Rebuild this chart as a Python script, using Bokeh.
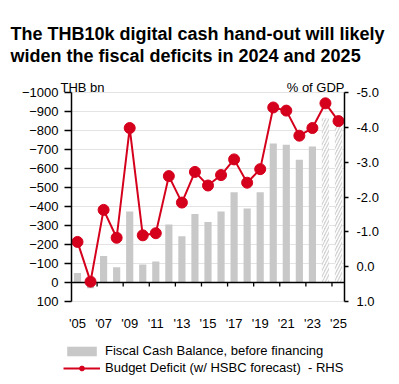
from bokeh.plotting import figure
from bokeh.models import (Range1d, LinearAxis, FixedTicker, Legend,
                          LegendItem, PrintfTickFormatter, Label)
from bokeh.embed import file_html
from bokeh.resources import INLINE

# ---------------- data ----------------
years = list(range(2005, 2026))
cash_balance = [-50, 30, -140, -80, -374, -95, -110, -305, -244, -360,
                -318, -374, -475, -389, -475, -732, -725, -646, -716,
                -863, -846]
forecast_years = [2024, 2025]
deficit_pct = [-0.71, 0.43, -1.63, -0.83, -3.98, -0.90, -0.96, -2.60,
               -1.84, -2.72, -2.33, -2.63, -3.08, -2.41, -2.80, -4.57,
               -4.48, -3.76, -3.98, -4.69, -4.18]
left_ticks = list(range(-1000, 101, 100))
right_ticks = [-5.0, -4.0, -3.0, -2.0, -1.0, 0.0, 1.0]
label_years = list(range(2005, 2026, 2))
tick_years = [y + 0.5 for y in range(2006, 2025, 2)]
title_lines = ["The THB10k digital cash hand-out will likely",
               "widen the fiscal deficits in 2024 and 2025"]
unit_labels = ["THB bn", "% of GDP"]
legend_labels = ["Fiscal Cash Balance, before financing",
                 "Budget Deficit (w/ HSBC forecast)  - RHS"]

BAR = "#C8C8C8"
RED = "#D5001C"
FONT = "Liberation Sans"

# ---------------- layout (pixels) ----------------
W, H = 399, 384
PL, PR, PT, PB = 71, 344, 92, 301          # plotting area edges
first_px, ppy = 77.0, 13.05                # pixel of first year, px per year
L_MIN, L_MAX = -1000, 100
R_MIN, R_MAX = -5.0, 1.0
upp_l = (L_MAX - L_MIN) / (PB - PT)
upp_r = (R_MAX - R_MIN) / (PB - PT)

x0 = years[0]
x_range = Range1d(x0 - first_px / ppy, x0 + (W - first_px) / ppy)
x_left = x0 - (first_px - PL) / ppy
x_right = x0 + (PR - first_px) / ppy
y_range = Range1d(L_MIN + (H - PT) * upp_l, L_MIN - PT * upp_l)
r_range = Range1d(R_MIN + (H - PT) * upp_r, R_MIN - PT * upp_r)

p = figure(width=W, height=H, frame_width=W, frame_height=H,
           x_range=x_range, y_range=y_range,
           x_axis_location=None, y_axis_location=None,
           output_backend="svg", toolbar_location=None,
           min_border=0, min_border_left=0, min_border_right=0,
           min_border_top=0, min_border_bottom=0)
p.outline_line_color = None
p.background_fill_color = "white"
p.xgrid.grid_line_color = None
p.ygrid.grid_line_color = None
p.extra_y_ranges = {"pct": r_range}

# horizontal gridlines between the two axes
p.segment(x0=[x_left] * len(left_ticks), x1=[x_right] * len(left_ticks),
          y0=left_ticks, y1=left_ticks, line_color="#E3E3E3", line_width=1)

# bars
actual_x = [y for y in years if y not in forecast_years]
actual_v = [v for y, v in zip(years, cash_balance) if y not in forecast_years]
fc_x = [y for y in years if y in forecast_years]
fc_v = [v for y, v in zip(years, cash_balance) if y in forecast_years]
bars = p.vbar(x=actual_x, top=actual_v, bottom=0, width=0.55,
              fill_color=BAR, line_color=None)
p.vbar(x=fc_x, top=fc_v, bottom=0, width=0.55, fill_color="#D2D2D2",
       line_color=None, hatch_pattern="/", hatch_color="white",
       hatch_scale=6, hatch_weight=1.5)

# zero baseline + its ticks
p.segment(x0=[x_left], x1=[x_right], y0=[0], y1=[0], line_color="black",
          line_width=1.5)
tick_len = 4 * upp_l
p.segment(x0=tick_years, x1=tick_years, y0=[0] * len(tick_years),
          y1=[tick_len] * len(tick_years), line_color="black", line_width=1.3)

# deficit line
ln = p.line(years, deficit_pct, y_range_name="pct", line_color=RED,
            line_width=2)
dots = p.scatter(years, deficit_pct, y_range_name="pct", size=11,
                 fill_color=RED, line_color=RED)


def style(axis):
    axis.major_label_text_font = FONT
    axis.major_label_text_font_size = "13px"
    axis.major_label_text_color = "black"
    axis.minor_tick_line_color = None
    axis.major_tick_in = 0


# bottom axis (labels only)
ax = LinearAxis(ticker=FixedTicker(ticks=label_years), fixed_location=L_MAX)
ax.major_label_overrides = {y: "'%02d" % (y % 100) for y in label_years}
style(ax)
ax.axis_line_color = None
ax.major_tick_line_color = None
ax.major_tick_out = 0
ax.major_label_standoff = 14
p.add_layout(ax, "below")

# left axis
ly = LinearAxis(ticker=FixedTicker(ticks=left_ticks), fixed_location=x_left,
                bounds=(L_MIN, L_MAX))
style(ly)
ly.axis_line_color = "black"
ly.axis_line_width = 1.5
ly.major_tick_line_color = "black"
ly.major_tick_line_width = 1.3
ly.major_tick_out = 7
ly.major_label_standoff = 6
p.add_layout(ly, "left")

# right axis
ry = LinearAxis(y_range_name="pct", ticker=FixedTicker(ticks=right_ticks),
                formatter=PrintfTickFormatter(format="%.1f"),
                fixed_location=x_right, bounds=(R_MIN, R_MAX))
style(ry)
ry.axis_line_color = "black"
ry.axis_line_width = 1.5
ry.major_tick_line_color = "black"
ry.major_tick_line_width = 1.3
ry.major_tick_out = 4
ry.major_label_standoff = 8
p.add_layout(ry, "right")

# texts (screen units measured from the bottom-left corner)
def screen_label(text, x, y_from_top, size, bold=False, align="left"):
    p.add_layout(Label(x=x, y=H - y_from_top, x_units="screen",
                       y_units="screen", text=text, text_font=FONT,
                       text_font_size=size,
                       text_font_style="bold" if bold else "normal",
                       text_color="black", text_align=align,
                       text_baseline="alphabetic"))


screen_label(title_lines[0], 10, 33.5, "18px", bold=True)
screen_label(title_lines[1], 10, 55.5, "18px", bold=True)
screen_label(unit_labels[0], 60, 86.5, "13px")
screen_label(unit_labels[1], PR, 86.5, "13px", align="right")

legend = Legend(items=[
    LegendItem(label=legend_labels[0], renderers=[bars]),
    LegendItem(label=legend_labels[1], renderers=[ln, dots]),
], location=(63, 8))
legend.orientation = "vertical"
legend.glyph_width = 37
legend.glyph_height = 12
legend.label_height = 17
legend.label_standoff = 5
legend.spacing = 0
legend.padding = 0
legend.margin = 0
legend.border_line_color = None
legend.background_fill_alpha = 0
legend.label_text_font = FONT
legend.label_text_font_size = "13px"
legend.label_text_color = "black"
p.add_layout(legend, "center")

open("out.html", "w").write(file_html(p, INLINE))
